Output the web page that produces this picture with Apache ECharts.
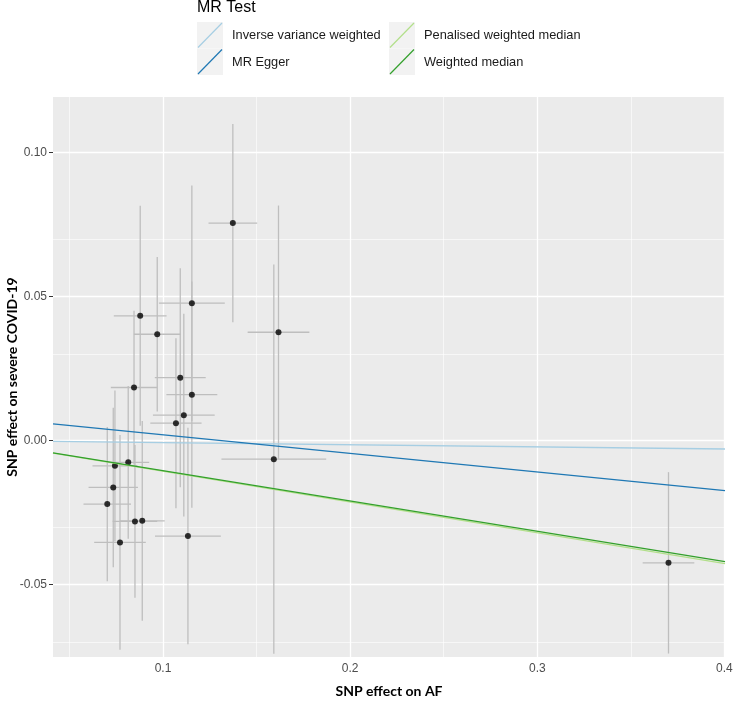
<!DOCTYPE html>
<html>
<head>
<meta charset="utf-8">
<script src="https://cdn.jsdelivr.net/npm/echarts@6/dist/echarts.min.js"></script>
<style>
html,body{margin:0;padding:0;background:#fff;}
#chart{width:734px;height:717px;}
</style>
</head>
<body>
<div id="chart"></div>
<script>
// ---- data ----
const snpX   = [0.1373, 0.1154, 0.0878, 0.0969, 0.1617, 0.1092, 0.1154, 0.0845, 0.1111, 0.1069, 0.1592, 0.0814, 0.0743, 0.0734, 0.0702, 0.0850, 0.0889, 0.0770, 0.1133, 0.3701];
const snpY   = [0.0755, 0.0477, 0.0433, 0.0369, 0.0376, 0.0218, 0.0159, 0.0184, 0.0088, 0.0060, -0.0065, -0.0076, -0.0088, -0.0163, -0.0221, -0.0281, -0.0279, -0.0354, -0.0332, -0.0425];
const snpXErr = [0.0130, 0.0176, 0.0141, 0.0125, 0.0165, 0.0136, 0.0136, 0.0124, 0.0165, 0.0137, 0.0280, 0.0112, 0.0120, 0.0132, 0.0127, 0.0119, 0.0120, 0.0138, 0.0176, 0.0138];
const snpYErr = [0.0344, 0.0409, 0.0382, 0.0268, 0.0440, 0.0380, 0.0393, 0.0267, 0.0352, 0.0295, 0.0676, 0.0265, 0.0262, 0.0277, 0.0268, 0.0265, 0.0347, 0.0373, 0.0376, 0.0315];

const methods    = ['Inverse variance weighted', 'MR Egger', 'Penalised weighted median', 'Weighted median'];
const slopes     = [-0.0074, -0.0645, -0.1068, -0.1052];
const intercepts = [0, 0.0084, 0, 0];
const methodColors = ['#A6CEE3', '#1F78B4', '#B2DF8A', '#33A02C'];

const xTicks = [0.1, 0.2, 0.3, 0.4];
const xMinorTicks = [0.05, 0.15, 0.25, 0.35];
const yTicks = [-0.05, 0.00, 0.05, 0.10];
const yMinorTicks = [-0.075, -0.025, 0.025, 0.075];

// ---- layout ----
const X_MIN = 0.0412, X_MAX = 0.4003, Y_MIN = -0.0752, Y_MAX = 0.1193;
const GRID = {left: 53, right: 9, top: 97, bottom: 60};

const chart = echarts.init(document.getElementById('chart'), null, {renderer: 'canvas'});

const errData = snpX.map((x, i) => [x, snpY[i], snpXErr[i], snpYErr[i]]);
const ptData = snpX.map((x, i) => [x, snpY[i]]);

const gridLines = [];
xMinorTicks.forEach(v => gridLines.push({xAxis: v, lineStyle: {color: '#fff', width: 0.6, type: 'solid'}}));
yMinorTicks.forEach(v => gridLines.push({yAxis: v, lineStyle: {color: '#fff', width: 0.6, type: 'solid'}}));
xTicks.forEach(v => gridLines.push({xAxis: v, lineStyle: {color: '#fff', width: 1.3, type: 'solid'}}));
yTicks.forEach(v => gridLines.push({yAxis: v, lineStyle: {color: '#fff', width: 1.3, type: 'solid'}}));

const series = [];
series.push({
  name: '_grid', type: 'line', data: [], z: 1, silent: true,
  markLine: {silent: true, symbol: 'none', label: {show: false}, animation: false, z: 1, data: gridLines}
});
series.push({
  name: 'errorbars', type: 'custom', z: 2, silent: true, clip: true,
  data: errData,
  renderItem: function (params, api) {
    const x = api.value(0), y = api.value(1), xe = api.value(2), ye = api.value(3);
    const v1 = api.coord([x, y - ye]), v2 = api.coord([x, y + ye]);
    const h1 = api.coord([x - xe, y]), h2 = api.coord([x + xe, y]);
    const st = {stroke: '#BEBEBE', lineWidth: 1.3};
    return {type: 'group', children: [
      {type: 'line', shape: {x1: v1[0], y1: v1[1], x2: v2[0], y2: v2[1]}, style: st},
      {type: 'line', shape: {x1: h1[0], y1: h1[1], x2: h2[0], y2: h2[1]}, style: st}
    ]};
  }
});
series.push({
  name: 'points', type: 'scatter', z: 3, symbol: 'circle', symbolSize: 6,
  itemStyle: {color: '#000'}, data: ptData
});
methods.forEach((m, i) => {
  series.push({
    name: m, type: 'line', z: 4, showSymbol: false, symbol: 'none', silent: true,
    lineStyle: {color: methodColors[i], width: 1.3},
    data: [[X_MIN, intercepts[i] + slopes[i] * X_MIN], [X_MAX, intercepts[i] + slopes[i] * X_MAX]]
  });
});

// legend drawn as graphics
const legendEls = [];
legendEls.push({type: 'text', left: 197, top: 0, style: {text: 'MR Test', font: '16px "Liberation Sans", Arial, sans-serif', fill: '#000'}});
const keyPos = [[197, 22], [197, 48.5], [389, 22], [389, 48.5]];
methods.forEach((m, i) => {
  const [kx, ky] = keyPos[i];
  legendEls.push({type: 'rect', shape: {x: kx, y: ky, width: 26, height: 26.5}, style: {fill: '#F2F2F2'}});
  legendEls.push({type: 'line', shape: {x1: kx + 1, y1: ky + 25.5, x2: kx + 25, y2: ky + 1}, style: {stroke: methodColors[i], lineWidth: 1.2}});
  legendEls.push({type: 'text', x: kx + 35, y: ky + 13.5, style: {text: m, font: '12.8px "Liberation Sans", Arial, sans-serif', fill: '#1a1a1a', textVerticalAlign: 'middle', verticalAlign: 'middle'}});
});

const option = {
  animation: false,
  backgroundColor: '#fff',
  grid: {left: GRID.left, right: GRID.right, top: GRID.top, bottom: GRID.bottom, show: true, backgroundColor: '#EBEBEB', borderWidth: 0,
    containLabel: false, outerBoundsMode: 'none'},
  xAxis: {
    type: 'value', min: X_MIN, max: X_MAX,
    name: 'SNP effect on AF', nameLocation: 'middle', nameGap: 27,
    nameTextStyle: {fontFamily: 'Lato', fontWeight: 'bold', fontSize: 14, color: '#000'},
    axisLine: {show: false},
    axisTick: {show: true, length: 4, lineStyle: {color: '#333', width: 1}, customValues: xTicks},
    axisLabel: {customValues: xTicks, color: '#4D4D4D', fontSize: 12, fontFamily: '"Liberation Sans", Arial, sans-serif', margin: 6,
      formatter: v => v.toFixed(1)},
    splitLine: {show: false}
  },
  yAxis: {
    type: 'value', min: Y_MIN, max: Y_MAX,
    name: 'SNP effect on severe COVID-19', nameLocation: 'middle', nameGap: 34, nameRotate: 90, nameMoveOverlap: false,
    nameTextStyle: {fontFamily: 'Lato', fontWeight: 'bold', fontSize: 14, color: '#000'},
    axisLine: {show: false},
    axisTick: {show: true, length: 4, lineStyle: {color: '#333', width: 1}, customValues: yTicks},
    axisLabel: {customValues: yTicks, color: '#4D4D4D', fontSize: 12, fontFamily: '"Liberation Sans", Arial, sans-serif', margin: 6,
      formatter: v => v.toFixed(2)},
    splitLine: {show: false}
  },
  graphic: legendEls,
  series: series
};
chart.setOption(option);
</script>
</body>
</html>
